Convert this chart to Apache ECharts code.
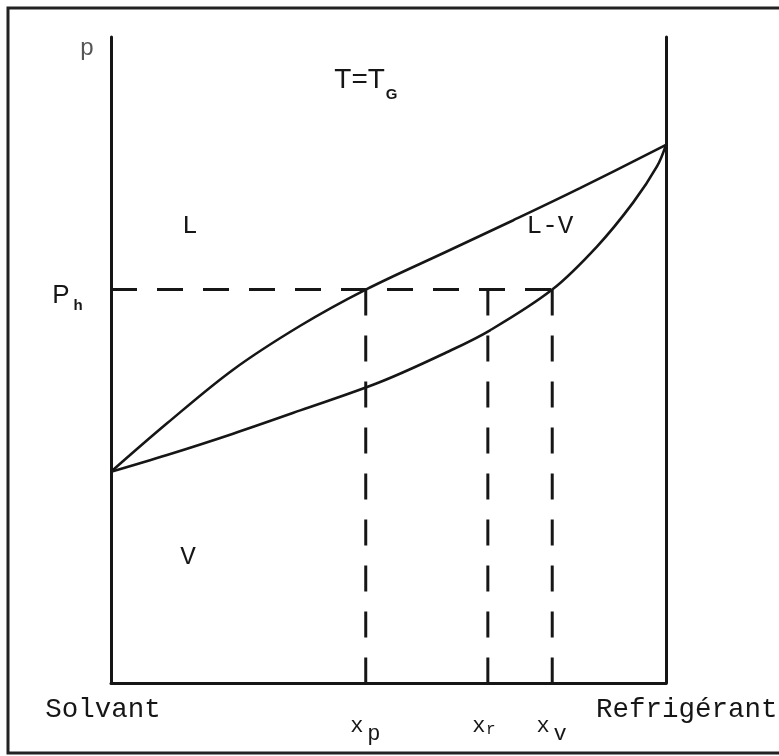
<!DOCTYPE html>
<html>
<head>
<meta charset="utf-8">
<script src="https://cdn.jsdelivr.net/npm/echarts@6/dist/echarts.min.js"></script>
<style>
  html, body { margin: 0; padding: 0; background: #fff; }
  #chart { width: 779px; height: 756px; }
</style>
</head>
<body>
<div id="chart"></div>
<script>
// Isothermal pressure–composition diagram of a solvent / refrigerant pair
// (mole fraction of refrigerant on x, pressure on y, arbitrary units)

// Bubble (liquid) curve
const bubbleX = [0, 0.101, 0.220, 0.341, 0.459, 0.605, 0.724, 0.845, 1];
const bubbleP = [32.7, 40.2, 48.5, 55.3, 60.9, 66.8, 71.6, 76.6, 83.3];

// Dew (vapour) curve
const dewX = [0, 0.101, 0.220, 0.341, 0.485, 0.605, 0.683, 0.795, 0.876, 0.941, 0.984, 1];
const dewP = [32.7, 35.3, 38.6, 42.2, 46.6, 51.2, 54.6, 60.9, 67.6, 74.4, 80.0, 83.3];

// Operating pressure and the three marked compositions
const Ph = 60.9;
const xp = 0.459;
const xr = 0.679;
const xv = 0.795;

// Label text
const yName = 'p';
const leftName = 'Solvant';
const rightName = 'Refrigérant';
const tempText = 'T=T';
const tempSub = 'G';
const phText = 'P';
const phSub = 'h';
const regionL = 'L';
const regionLV = 'L-V';
const regionV = 'V';
const xLabels = [
  { base: 'x', sub: 'p', at: xp },
  { base: 'x', sub: 'r', at: xr },
  { base: 'x', sub: 'v', at: xv }
];

const ink = '#161616';
const mono = "'Liberation Mono', 'DejaVu Sans Mono', monospace";
const sans = "'Liberation Sans', Arial, sans-serif";
const dash = [26, 20];

const zip = (xs, ys) => xs.map((x, i) => [x, ys[i]]);

const chart = echarts.init(document.getElementById('chart'), null, { renderer: 'canvas' });

const curveStyle = { color: ink, width: 2.6 };
const dashStyle = { color: ink, width: 3, type: dash };

const option = {
  animation: false,
  backgroundColor: '#fff',
  grid: { left: 111, right: 113, top: 37, bottom: 73, containLabel: false },
  xAxis: {
    type: 'value', min: 0, max: 1,
    axisLine: { show: true, onZero: false, lineStyle: { color: ink, width: 3 } },
    axisTick: { show: false }, axisLabel: { show: false }, splitLine: { show: false }
  },
  yAxis: [
    {
      type: 'value', min: 0, max: 100, position: 'left',
      axisLine: { show: true, onZero: false, lineStyle: { color: ink, width: 3 } },
      axisTick: { show: false }, axisLabel: { show: false }, splitLine: { show: false }
    },
    {
      type: 'value', min: 0, max: 100, position: 'right',
      axisLine: { show: true, onZero: false, lineStyle: { color: ink, width: 3 } },
      axisTick: { show: false }, axisLabel: { show: false }, splitLine: { show: false }
    }
  ],
  series: [
    {
      name: 'bubble', type: 'line', data: zip(bubbleX, bubbleP),
      smooth: 0.35, symbol: 'none', lineStyle: curveStyle
    },
    {
      name: 'dew', type: 'line', data: zip(dewX, dewP),
      smooth: 0.35, symbol: 'none', lineStyle: curveStyle
    },
    { name: 'Ph level', type: 'line', data: [[0, Ph], [xv, Ph]], symbol: 'none', lineStyle: dashStyle },
    { name: 'xp', type: 'line', data: [[xp, Ph], [xp, 0]], symbol: 'none', lineStyle: dashStyle },
    { name: 'xr', type: 'line', data: [[xr, Ph], [xr, 0]], symbol: 'none', lineStyle: dashStyle },
    { name: 'xv', type: 'line', data: [[xv, Ph], [xv, 0]], symbol: 'none', lineStyle: dashStyle }
  ]
};

chart.setOption(option);

const toPx = (x, y) => chart.convertToPixel({ xAxisIndex: 0, yAxisIndex: 0 }, [x, y]);

function txt(text, x, y, font, opts) {
  return Object.assign({
    type: 'text', x: x, y: y, silent: true,
    style: {
      text: text, font: font, fill: ink,
      textAlign: 'center', textVerticalAlign: 'middle'
    }
  }, opts || {});
}

function buildGraphic() {
  const origin = toPx(0, 0);
  const top = toPx(0, 100);
  const end = toPx(1, 0);
  const phPx = toPx(0, Ph);
  const els = [];

  // outer frame
  els.push({
    type: 'rect', silent: true,
    shape: { x: 8, y: 8, width: 800, height: 745 },
    style: { fill: 'none', stroke: '#222', lineWidth: 3 }
  });

  // axis name
  const pName = txt(yName, top[0] - 24, top[1] + 11, '400 24px ' + sans);
  pName.style.fill = '#555';
  els.push(pName);

  // end-member names under the x axis
  els.push(txt(leftName, origin[0] - 8, origin[1] + 27, '27.5px ' + mono));
  const r = txt(rightName, end[0] - 70, origin[1] + 27, '27.5px ' + mono);
  r.style.textAlign = 'left';
  els.push(r);

  // composition markers
  xLabels.forEach(function (l) {
    const p = toPx(l.at, 0);
    const smallSub = l.sub === 'r';
    els.push(txt(l.base, p[0] - 9, origin[1] + 43, '22px ' + mono));
    els.push(txt(l.sub, p[0] + (smallSub ? 3 : 8), origin[1] + (smallSub ? 47 : 51),
      (smallSub ? '16px ' : '22px ') + mono));
  });

  // operating pressure label
  els.push(txt(phText, phPx[0] - 50, phPx[1] + 6, '26px ' + sans));
  els.push(txt(phSub, phPx[0] - 33, phPx[1] + 16, 'bold 15px ' + sans));

  // temperature
  const tPos = toPx(0.448, 93.3);
  els.push(txt(tempText, tPos[0], tPos[1], '28px ' + sans));
  els.push(txt(tempSub, tPos[0] + 32, tPos[1] + 15, 'bold 15px ' + sans));

  // phase regions
  const lPos = toPx(0.142, 70.8);
  els.push(txt(regionL, lPos[0], lPos[1], '26px ' + mono));
  const lvPos = toPx(0.791, 70.8);
  els.push(txt(regionLV, lvPos[0], lvPos[1], '26px ' + mono));
  const vPos = toPx(0.139, 19.5);
  els.push(txt(regionV, vPos[0], vPos[1], '26px ' + mono));

  return els;
}

chart.setOption({ graphic: { elements: buildGraphic() } });
</script>
</body>
</html>
